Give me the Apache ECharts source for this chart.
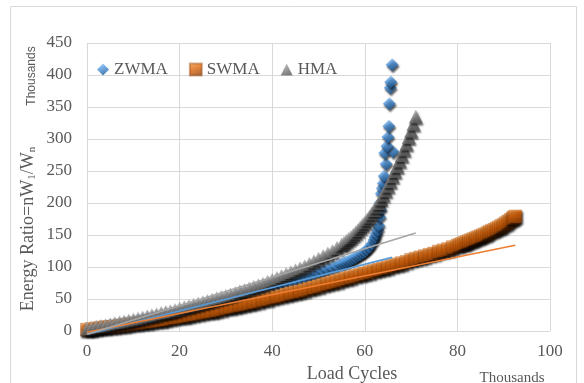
<!DOCTYPE html>
<html>
<head>
<meta charset="utf-8">
<script src="https://cdn.jsdelivr.net/npm/echarts@6/dist/echarts.min.js"></script>
<style>
html,body{margin:0;padding:0;background:#fff;}
#main{width:584px;height:383px;}
</style>
</head>
<body>
<div id="main"></div>
<script>
// x = load cycles (thousands), y = energy ratio (thousands)
var seriesNames = ['ZWMA', 'SWMA', 'HMA'];
var xTicks = [0, 20, 40, 60, 80, 100];
var yTicks = [0, 50, 100, 150, 200, 250, 300, 350, 400, 450];

var zwmaX = [0,1,2,3,4,5,6,7,8,9,10,11,12,13,14,15,16,17,18,19,20,21,22,23,24,25,26,27,28,29,30,
  31,32,33,34,35,36,37,38,39,40,41,42,43,44,45,46,47,48,49,50,51,52,53,54,55,55.5,56,56.5,57,57.5,58,58.5,
  59,59.5,60,60.5,61,61.5,62,62.2,62.5,62.8,
  63,63.2,63.4,63.3,63.6,63.8,64.0,64.2,64.6,64.3,66.1,64.8,65.0,65.2,65.3,65.5,65.6,65.9];
var zwmaY = [3,4,5.5,7,8,9,10.5,11.5,13,14,15,16.5,18,19.5,21,22.5,24,25.5,27,28.5,30,31.5,33,35,36.5,38,40,41.5,43,45,47,
  49,51,53,55,57,59,61,63.5,66,68,70.5,73,75,77.5,80,82,84.5,87,89.5,92,94.5,97,99.5,102,105,106.5,108,109.5,111,113,115,117,
  119,121.5,124,127.5,131,136,142,147,152,158,
  165,178,190,200,215,223,231,242,261,278,280,289,303,320,355,380,389,416];

var swmaX = [0,1,2,3,4,5,6,7,8,9,10,11,12,13,14,15,16,17,18,19,20,21,22,23,24,25,26,27,28,29,30,
  31,32,33,34,35,36,37,38,39,40,41,42,43,44,45,46,47,48,49,50,51,52,53,54,55,56,57,58,59,60,
  61,62,63,64,65,66,67,68,69,70,71,72,73,74,75,76,77,78,79,80,80.5,81,81.5,82,82.5,83,83.5,84,84.5,
  85,85.5,86,86.5,87,87.5,88,88.5,89,89.5,90,90.5,91,91.5,92,92.2,92.5];
var swmaY = [2,3,4,5,6,6.5,7,8,9,10,11,12,13,14,15,16,17,18,19.5,21,22,23,24.5,26,27,28.5,30,31,32.5,34,36,
  37.5,39,40.5,42,43.5,45,46.5,48.5,50,52,53.5,55,57,59,60.5,62,64,66,68,70,72,74,76,78,80,82,84,86,88,90,
  92,94,96,98,100,102,104,106,108,111,113,115,117,119,121,124,126,128,131,133,134.5,136,137.5,139,140.5,142,143.5,145,146.5,
  148,149.5,151,153,155,156.5,158,160,162,164,166,168.5,171,173.5,176,177,179];

var hmaX = [0,1,2,3,4,5,6,7,8,9,10,11,12,13,14,15,16,17,18,19,20,21,22,23,24,25,26,27,28,29,30,
  31,32,33,34,35,36,37,38,39,40,41,42,43,44,45,46,47,48,49,50,51,52,53,54,55,55.5,56,56.5,57,57.5,58,58.5,59,59.5,60,
  60.5,61,61.5,62,62.5,63,63.5,64,64.5,65,65.5,66,66.5,67,67.5,68,68.5,69,69.5,70,70.5,71];
var hmaY = [4,5,6.5,8,9,10.5,12,13.5,15,16.5,18,19.5,21,23,24.5,26,28,29.5,31,33,35,37,39,41,43,45,47,49,51,53,55,
  57,59.5,62,64,66.5,69,71.5,74,77,80,83,86,89,92,95,98,101,105,109,113,117,121,125,130,135,138,141,144,147,150.5,154,158,162,166,170,
  174.5,179,184,189,194.5,200,206.5,213,220,227,234.5,242,250,258,266.5,275,284,293,303,313,324,335];

// linear trend lines (start / end)
var zwmaTrendX = [0, 65.9];
var zwmaTrendY = [-5, 115];
var swmaTrendX = [0, 92.5];
var swmaTrendY = [-2, 134];
var hmaTrendX = [0, 71];
var hmaTrendY = [-5, 153];

function pairs(xs, ys) {
  var out = [];
  for (var i = 0; i < xs.length; i++) out.push([xs[i], ys[i]]);
  return out;
}
function grad(c1, c2, c3) {
  return {type: 'linear', x: 0, y: 0, x2: 0.4, y2: 1,
    colorStops: [{offset: 0, color: c1}, {offset: 0.5, color: c2}, {offset: 1, color: c3}]};
}

var serif = '"Liberation Serif", "DejaVu Serif", serif';
var textGray = '#595959';

var chart = echarts.init(document.getElementById('main'));
var shadow = {shadowColor: 'rgba(0,0,0,0.8)', shadowBlur: 2, shadowOffsetX: 1, shadowOffsetY: 2};

var option = {
  animation: false,
  backgroundColor: '#fff',
  grid: {left: 87, right: 34, top: 43, bottom: 52},
  legend: {
    data: seriesNames,
    left: 92, top: 56,
    itemWidth: 12, itemHeight: 12, itemGap: 21,
    textStyle: {fontFamily: serif, fontSize: 17, color: textGray}
  },
  xAxis: {
    type: 'value',
    min: xTicks[0], max: xTicks[xTicks.length - 1], interval: xTicks[1] - xTicks[0],
    axisLine: {show: false}, axisTick: {show: false},
    splitLine: {lineStyle: {color: '#d9d9d9', width: 1}},
    axisLabel: {fontFamily: serif, fontSize: 17, color: textGray, margin: 12}
  },
  yAxis: {
    type: 'value',
    min: yTicks[0], max: yTicks[yTicks.length - 1], interval: yTicks[1] - yTicks[0],
    axisLine: {show: false}, axisTick: {show: false},
    splitLine: {lineStyle: {color: '#d9d9d9', width: 1}},
    axisLabel: {fontFamily: serif, fontSize: 17, color: textGray, margin: 15}
  },
  graphic: [
    {type: 'rect', shape: {x: 10.5, y: 6.5, width: 566, height: 400},
      style: {fill: 'none', stroke: '#d9d9d9', lineWidth: 1}, silent: true},
    {type: 'text', x: 32, y: 76, rotation: Math.PI / 2,
      style: {text: 'Thousands', font: '12px "Liberation Sans", Arial, sans-serif', fill: textGray,
        align: 'center', verticalAlign: 'middle'}},
    {type: 'text', x: 28, y: 229, rotation: Math.PI / 2,
      style: {text: '{t|Energy Ratio=nW}{s|1}{t|/W}{s|n}', fill: textGray,
        align: 'center', verticalAlign: 'middle',
        rich: {
          t: {fontFamily: serif, fontSize: 18, color: textGray, lineHeight: 20},
          s: {fontFamily: serif, fontSize: 11, color: textGray, lineHeight: 20, verticalAlign: 'bottom', padding: [8, 0, 0, 0]}
        }}},
    {type: 'text', x: 352, y: 374,
      style: {text: 'Load Cycles', font: '18px ' + serif, fill: textGray, align: 'center', verticalAlign: 'middle'}},
    {type: 'text', x: 512, y: 378,
      style: {text: 'Thousands', font: '15px ' + serif, fill: textGray, align: 'center', verticalAlign: 'middle'}}
  ],
  series: [
    {
      name: 'ZWMA', type: 'scatter', clip: false, symbol: 'diamond', symbolSize: 13,
      itemStyle: Object.assign({color: grad('#a9d0f3', '#4d94dc', '#215f9c')}, shadow),
      data: pairs(zwmaX, zwmaY)
    },
    {
      name: 'SWMA', type: 'scatter', clip: false, symbol: 'rect', symbolSize: 13,
      itemStyle: Object.assign({color: grad('#f9a556', '#e0680c', '#9e4708'),
        borderColor: 'rgba(140,60,0,0.5)', borderWidth: 0.6}, shadow),
      data: pairs(swmaX, swmaY)
    },
    {
      name: 'HMA', type: 'scatter', clip: false, symbol: 'triangle', symbolSize: 14,
      itemStyle: Object.assign({color: grad('#bdbdbd', '#8c8c8c', '#5c5c5c')}, shadow),
      data: pairs(hmaX, hmaY)
    },
    {
      name: 'ZWMA trend', type: 'line', showSymbol: false, silent: true, clip: false,
      lineStyle: {color: '#5b9bd5', width: 1.6}, data: pairs(zwmaTrendX, zwmaTrendY)
    },
    {
      name: 'SWMA trend', type: 'line', showSymbol: false, silent: true, clip: false,
      lineStyle: {color: '#ed7d31', width: 1.6}, data: pairs(swmaTrendX, swmaTrendY)
    },
    {
      name: 'HMA trend', type: 'line', showSymbol: false, silent: true, clip: false,
      lineStyle: {color: '#a5a5a5', width: 1.6}, data: pairs(hmaTrendX, hmaTrendY)
    }
  ]
};
chart.setOption(option);
</script>
</body>
</html>
